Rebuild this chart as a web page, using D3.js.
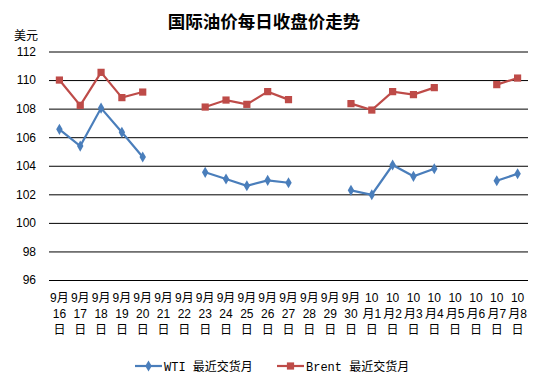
<!DOCTYPE html>
<html>
<head>
<meta charset="utf-8">
<script src="https://cdn.jsdelivr.net/npm/d3@7"></script>
<style>
  body { margin: 0; background: #fff; }
  text { font-family: Arial, "Liberation Sans", "Noto Sans CJK SC", sans-serif; }
</style>
</head>
<body>
<script>
// Days on the x axis (three-line labels)
const days = ["9/16","9/17","9/18","9/19","9/20","9/21","9/22","9/23","9/24","9/25","9/26","9/27","9/28","9/29","9/30","10/1","10/2","10/3","10/4","10/5","10/6","10/7","10/8"];
const wti = [106.55,105.38,108.04,106.34,104.61,null,null,103.54,103.07,102.6,102.98,102.81,null,null,102.28,101.97,104.05,103.26,103.79,null,null,102.95,103.44];
const brent = [110.0,108.23,110.54,108.77,109.16,null,null,108.11,108.6,108.3,109.19,108.63,null,null,108.35,107.9,109.19,108.98,109.47,null,null,109.68,110.14];
const yTicks = [96,98,100,102,104,106,108,110,112];

const W = 544, H = 384;
const plotL = 49, plotR = 528, plotT = 51.5, plotB = 280;

const svg = d3.select("body").append("svg")
    .attr("width", W)
    .attr("height", H);

const x = d3.scaleBand().domain(days).range([plotL, plotR]);
const y = d3.scaleLinear().domain([96, 112]).range([plotB, plotT]);

// title
svg.append("text")
    .attr("x", 264).attr("y", 28)
    .attr("text-anchor", "middle")
    .style("font-size", "17.5px").style("font-weight", "bold")
    .style("font-family", "'Noto Sans CJK SC', sans-serif")
    .text("国际油价每日收盘价走势");

svg.append("text")
    .attr("x", 14).attr("y", 40)
    .style("font-size", "12px")
    .style("font-family", "'Noto Sans CJK SC', sans-serif")
    .text("美元");

// grid + y labels
const yAxis = d3.axisLeft(y).tickValues(yTicks).tickSize(-(plotR - plotL)).tickPadding(13);
const gy = svg.append("g").attr("transform", `translate(${plotL},0)`).call(yAxis);
gy.select(".domain").remove();
gy.selectAll(".tick line").attr("stroke", "#000").attr("stroke-width", 1);
gy.selectAll(".tick text").style("font-size", "12px").style("font-family", "Arial, 'Liberation Sans'").attr("fill", "#000");

// x labels
const xl = svg.append("g");
days.forEach(d => {
  const [m, dd] = d.split("/");
  const cx = x(d) + x.bandwidth() / 2;
  const lines = m === "9" ? ["9月", dd, "日"] : ["10", "月" + dd, "日"];
  lines.forEach((s, i) => {
    xl.append("text")
      .attr("x", cx).attr("y", 302 + i * 16)
      .attr("text-anchor", "middle")
      .style("font-size", "12px")
      .style("font-family", "Arial, 'Noto Sans CJK SC'")
      .text(s);
  });
});

const series = [
  { name: "WTI 最近交货月", values: wti, color: "#4A7EBB", shape: d3.symbolDiamond, size: 36 },
  { name: "Brent 最近交货月", values: brent, color: "#BE4B48", shape: d3.symbolSquare, size: 52 }
];

const line = d3.line()
    .defined(d => d.v != null)
    .x(d => x(d.k) + x.bandwidth() / 2)
    .y(d => y(d.v));

series.forEach(s => {
  const pts = days.map((k, i) => ({ k, v: s.values[i] }));
  svg.append("path")
    .attr("d", line(pts))
    .attr("fill", "none")
    .attr("stroke", s.color)
    .attr("stroke-width", 2.2);
  svg.append("g").selectAll("path")
    .data(pts.filter(p => p.v != null))
    .join("path")
    .attr("transform", p => `translate(${x(p.k) + x.bandwidth() / 2},${y(p.v)})`)
    .attr("d", d3.symbol(s.shape, s.size))
    .attr("fill", s.color);
});

// legend
const legX = [135, 277];
series.forEach((s, i) => {
  const g = svg.append("g").attr("transform", `translate(${legX[i]},366)`);
  g.append("line").attr("x1", 0).attr("x2", 27).attr("y1", 0).attr("y2", 0)
    .attr("stroke", s.color).attr("stroke-width", 2.2);
  g.append("path").attr("transform", "translate(13.5,0)").attr("d", d3.symbol(s.shape, s.size)).attr("fill", s.color);
  g.append("text").attr("x", 29).attr("y", 5)
    .style("font-size", "12px")
    .style("font-family", "'Liberation Mono', 'Noto Sans CJK SC', monospace")
    .text(s.name);
});
</script>
</body>
</html>
